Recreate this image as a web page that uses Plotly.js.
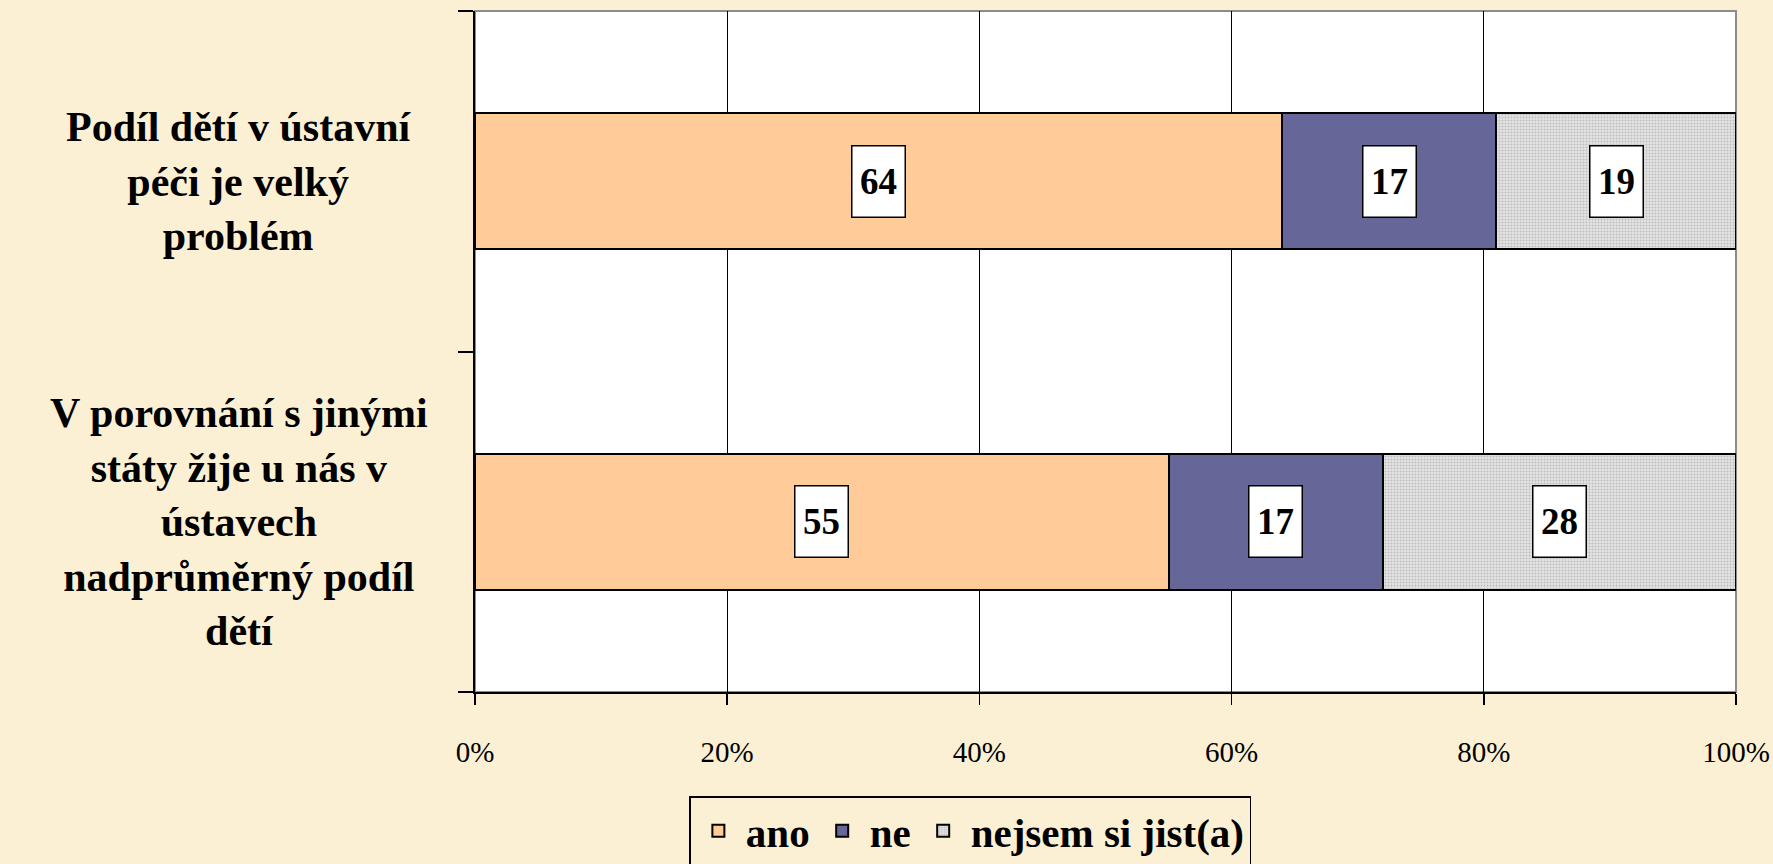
<!DOCTYPE html>
<html>
<head>
<meta charset="utf-8">
<script src="https://cdn.plot.ly/plotly-3.0.1.min.js"></script>
<style>
  html, body { margin: 0; padding: 0; background: #FCF0D4; }
  #chart { width: 1773px; height: 864px; }
</style>
</head>
<body>
<div id="chart"></div>
<script>
// Categories (top to bottom)
const categories = [
  "Podíl dětí v ústavní<br>péči je velký<br>problém",
  "V porovnání s jinými<br>státy žije u nás v<br>ústavech<br>nadprůměrný podíl<br>dětí"
];
const seriesNames = ["ano", "ne", "nejsem si jist(a)"];
const ano = [64, 55];
const ne = [17, 17];
const nejsem = [19, 28];
const xTickVals = [0, 20, 40, 60, 80, 100];
const xTickText = ["0%", "20%", "40%", "60%", "80%", "100%"];

const serif = "'Liberation Serif', 'Times New Roman', Times, serif";
const catIdx = categories.map((c, i) => i);

const traces = [
  {
    type: "bar", orientation: "h", name: seriesNames[0],
    x: ano, y: catIdx,
    marker: { color: "#FFCC99", line: { color: "#000000", width: 2 } },
    hoverinfo: "skip"
  },
  {
    type: "bar", orientation: "h", name: seriesNames[1],
    x: ne, y: catIdx,
    marker: { color: "#666699", line: { color: "#000000", width: 2 } },
    hoverinfo: "skip"
  },
  {
    type: "bar", orientation: "h", name: seriesNames[2],
    x: nejsem, y: catIdx,
    marker: {
      color: "#DCDCDC",
      line: { color: "#000000", width: 2 },
      pattern: { shape: ".", fgcolor: "#BDBDBD", bgcolor: "#E4E4E4", size: 3, solidity: 0.35 }
    },
    hoverinfo: "skip"
  }
];

// Data-label annotations at segment midpoints
const annotations = [];
const allSeries = [ano, ne, nejsem];
catIdx.forEach(i => {
  let start = 0;
  allSeries.forEach(s => {
    const v = s[i];
    annotations.push({
      x: start + v / 2, y: i, xref: "x", yref: "y",
      text: "<b>" + String(v) + "</b>", showarrow: false,
      font: { family: serif, size: 37, color: "#000000" },
      bgcolor: "#FFFFFF", bordercolor: "#000000", borderwidth: 1.5,
      borderpad: 1, width: 50, height: 68, align: "center", valign: "middle"
    });
    start += v;
  });
});
// Category labels (centered text blocks to the left of the plot)
categories.forEach((c, i) => {
  annotations.push({
    x: -0.187, xref: "paper", y: i, yref: "y",
    text: "<b>" + c + "</b>", showarrow: false, align: "center",
    xanchor: "center", yanchor: "middle",
    font: { family: serif, size: 42, color: "#000000" }
  });
});

const layout = {
  width: 1773, height: 864,
  paper_bgcolor: "#FCF0D4",
  plot_bgcolor: "#FFFFFF",
  font: { family: serif, color: "#000000" },
  margin: { l: 475, r: 37, t: 11, b: 172, autoexpand: false },
  barmode: "stack",
  bargap: 0.6,
  showlegend: true,
  legend: {
    orientation: "h",
    x: 0.170, xanchor: "left",
    y: -0.153, yanchor: "top",
    bgcolor: "rgba(0,0,0,0)",
    bordercolor: "#000000", borderwidth: 1.5,
    font: { family: serif, size: 41, color: "#000000", weight: "bold" },
    traceorder: "normal",
    itemwidth: 45
  },
  xaxis: {
    range: [0, 100],
    tickvals: xTickVals, ticktext: xTickText,
    showgrid: true, gridcolor: "#000000", gridwidth: 1,
    showline: true, linecolor: "#000000", linewidth: 2,
    ticks: "outside", ticklen: 11, tickwidth: 1.5, tickcolor: "#000000",
    ticklabelstandoff: 22,
    tickfont: { family: serif, size: 29, color: "#000000" },
    zeroline: false, fixedrange: true
  },
  yaxis: {
    type: "linear",
    range: [1.5, -0.5],
    tickvals: [-0.5, 0.5, 1.5],
    showticklabels: false,
    showgrid: false,
    showline: true, linecolor: "#000000", linewidth: 2,
    ticks: "outside", ticklen: 15, tickwidth: 2, tickcolor: "#000000",
    zeroline: false, fixedrange: true
  },
  shapes: [
    {
      type: "rect", xref: "paper", yref: "paper",
      x0: 0, x1: 1, y0: 0, y1: 1,
      line: { color: "#8C8C8C", width: 2 },
      layer: "below"
    }
  ],
  annotations: annotations
};

Plotly.newPlot("chart", traces, layout, { staticPlot: true, displayModeBar: false });
</script>
</body>
</html>
